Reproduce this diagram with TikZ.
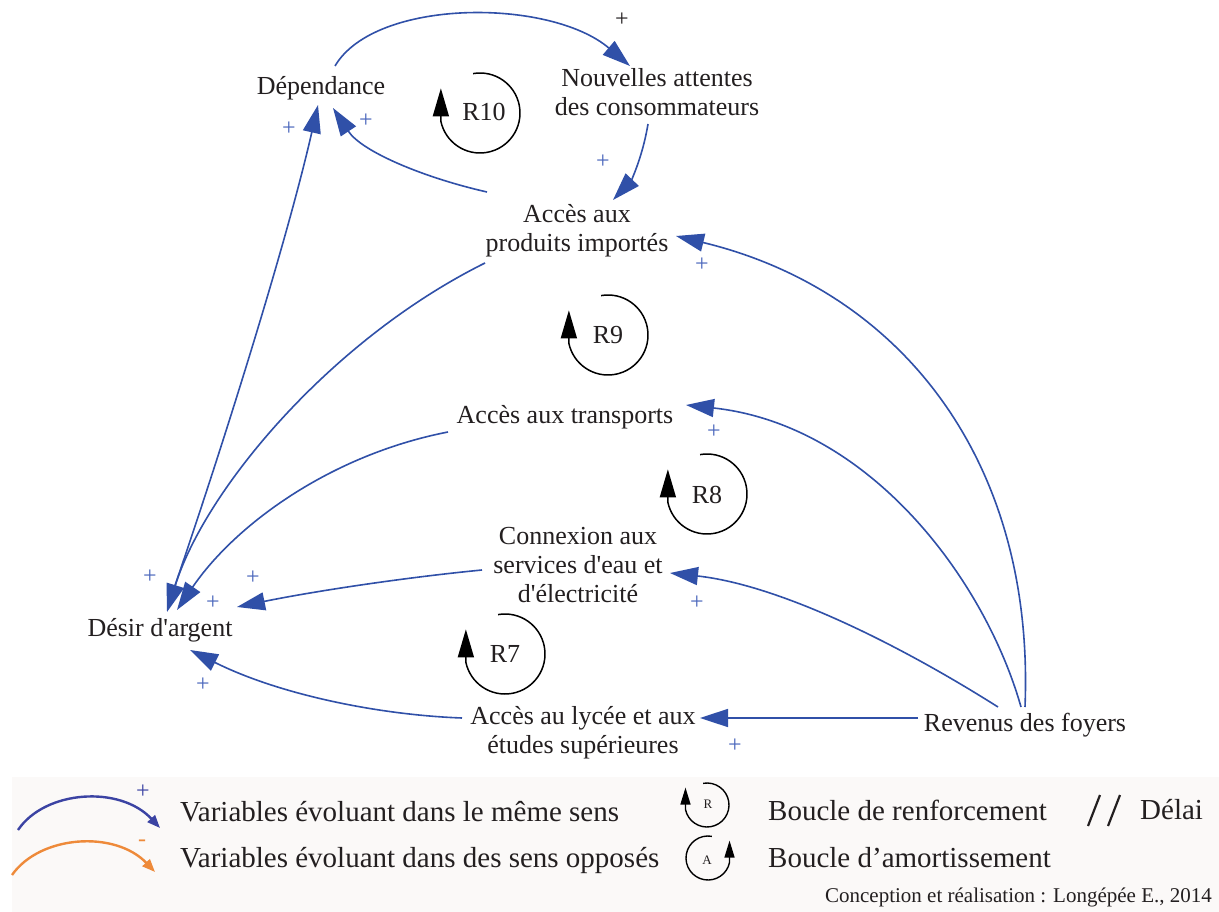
\documentclass[tikz,border=0pt]{standalone}
\usepackage{fontspec}
\setmainfont{Liberation Serif}[Ligatures=TeXOff]
\usetikzlibrary{arrows.meta}
\definecolor{ablue}{HTML}{3050A8}
\definecolor{pblue}{HTML}{4A66BC}
\definecolor{txt}{HTML}{231F20}
\definecolor{lblue}{HTML}{3B43A3}
\definecolor{lorange}{HTML}{EE8A3A}
\definecolor{legbg}{HTML}{FBF9F8}
\tikzset{
  var/.style={font=\fontsize{26}{29}\selectfont, align=center, text=txt, inner sep=0pt},
  plus/.style={font=\fontsize{24}{24}\selectfont, text=pblue, inner sep=0pt},
  looplbl/.style={font=\fontsize{26}{29}\selectfont, text=txt, inner sep=0pt},
  link/.style={draw=ablue, line width=1.6pt, -{Triangle[length=28pt,width=18pt]}},
  loopst/.style={draw=black, line width=1.5pt, -{Triangle[length=28pt,width=16pt]}},
  legtxt/.style={font=\fontsize{29}{32}\selectfont, text=txt, inner sep=0pt, anchor=west},
  legloop/.style={draw=black, line width=1.4pt, -{Triangle[length=17pt,width=10pt]}}
}
\begin{document}
\begin{tikzpicture}[x=1pt,y=1pt]
\useasboundingbox (0,0) rectangle (1219,-912);
\fill[white] (0,0) rectangle (1219,-912);
\fill[legbg] (12,-777) rectangle (1219,-912);

% variables
\node[var] (dep) at (321,-88) {Dépendance};
\node[var] (nou) at (657,-92) {Nouvelles attentes\\des consommateurs};
\node[var] (pro) at (577,-231) {Accès aux\\produits importés};
\node[var] (tra) at (565,-417) {Accès aux transports};
\node[var] (con) at (578,-565) {Connexion aux\\services d'eau et\\d'électricité};
\node[var] (des) at (160,-630) {Désir d'argent};
\node[var] (lyc) at (583,-733) {Accès au lycée et aux\\études supérieures};
\node[var] (rev) at (1025,-725) {Revenus des foyers};

% links
\draw[link] ([shift={(14,22)}]dep.center) .. controls (375,2) and (550,2) .. ([shift={(-27,26)}]nou.center);
\draw[link] ([shift={(-9,-32)}]nou.center) .. controls (642,-160) and (630,-182) .. ([shift={(36,31)}]pro.center);
\draw[link] ([shift={(-90,39)}]pro.center) .. controls (425,-178) and (362,-152) .. ([shift={(12,-20)}]dep.center);
\draw[link] ([shift={(10,30)}]des.center) .. controls (215,-470) and (285,-250) .. ([shift={(-3,-17)}]dep.center);
\draw[link] ([shift={(-92,-32)}]pro.center) .. controls (330,-340) and (205,-490) .. ([shift={(7,18)}]des.center);
\draw[link] ([shift={(-117,-15)}]tra.center) .. controls (330,-455) and (235,-525) .. ([shift={(17,20)}]des.center);
\draw[link] ([shift={(-96,-5)}]con.center) .. controls (400,-578) and (310,-592) .. ([shift={(77,23)}]des.center);
\draw[link] ([shift={(-121,15)}]lyc.center) .. controls (380,-715) and (280,-695) .. ([shift={(30,-20)}]des.center);
\draw[link] ([shift={(-107,7)}]rev.center) -- ([shift={(117,15)}]lyc.center);
\draw[link] ([shift={(-27,18)}]rev.center) .. controls (900,-645) and (780,-585) .. ([shift={(92,-8)}]con.center);
\draw[link] ([shift={(-4,18)}]rev.center) .. controls (985,-580) and (870,-425) .. ([shift={(121,12)}]tra.center);
\draw[link] ([shift={(0,18)}]rev.center) .. controls (1035,-460) and (900,-290) .. ([shift={(99,-5)}]pro.center);

% polarity signs
\node[plus, text=txt] (p1) at (622,-20) {+};
\node[plus] (p2) at (603,-162) {+};
\node[plus] (p3) at (366,-121) {+};
\node[plus] (p4) at (289,-129) {+};
\node[plus] (p5) at (702,-265) {+};
\node[plus] (p6) at (714,-432) {+};
\node[plus] (p7) at (697,-603) {+};
\node[plus] (p8) at (735,-746) {+};
\node[plus] (p9) at (150,-577) {+};
\node[plus] (p10) at (213,-603) {+};
\node[plus] (p11) at (253,-578) {+};
\node[plus] (p12) at (203,-685) {+};

% loops
\draw[loopst] (480,-113) ++(100:40) arc[start angle=100,end angle=-168,radius=40] -- ++(0,33);
\node[looplbl] (r10) at (484,-112) {R10};
\draw[loopst] (608,-335) ++(100:40) arc[start angle=100,end angle=-168,radius=40] -- ++(0,33);
\node[looplbl] (r9) at (608,-335) {R9};
\draw[loopst] (707,-494) ++(100:40) arc[start angle=100,end angle=-168,radius=40] -- ++(0,33);
\node[looplbl] (r8) at (707,-495) {R8};
\draw[loopst] (505,-654) ++(100:40) arc[start angle=100,end angle=-168,radius=40] -- ++(0,33);
\node[looplbl] (r7) at (505,-654) {R7};

% legend
\coordinate (lb1) at (18,-830);
\coordinate (lb2) at (160,-828);
\draw[draw=lblue, line width=2.4pt, -{Triangle[length=13pt,width=10pt]}] (lb1) .. controls (45,-790) and (120,-785) .. (lb2);
\node[font=\fontsize{24}{24}\selectfont, text=lblue, inner sep=0pt] (lplus) at (143,-792) {+};
\coordinate (lo1) at (12,-875);
\coordinate (lo2) at (155,-872);
\draw[draw=lorange, line width=2.4pt, -{Triangle[length=13pt,width=10pt]}] (lo1) .. controls (40,-835) and (115,-830) .. (lo2);
\node[font=\fontsize{24}{24}\selectfont, text=lorange, inner sep=0pt] (lminus) at (142,-843) {-};
\node[legtxt] (lt1) at (180,-812) {Variables évoluant dans le même sens};
\node[legtxt] (lt2) at (180,-860) {Variables évoluant dans des sens opposés};

\draw[legloop] (707,-805) ++(100:22) arc[start angle=100,end angle=-168,radius=22] -- ++(0,22);
\node[font=\fontsize{13}{13}\selectfont, text=txt, inner sep=0pt] (lr) at (708,-804) {R};
\draw[legloop] (708,-858) ++(80:22) arc[start angle=80,end angle=348,radius=22] -- ++(0,22);
\node[font=\fontsize{13}{13}\selectfont, text=txt, inner sep=0pt] (la) at (707,-860) {A};
\node[legtxt] (lt3) at (768,-810) {Boucle de renforcement};
\node[legtxt] (lt4) at (768,-858) {Boucle d’amortissement};
\draw[txt, line width=2.2pt] (1088,-826) -- (1100,-795);
\draw[txt, line width=2.2pt] (1108,-826) -- (1120,-795);
\node[legtxt] (lt5) at (1140,-810) {Délai};
\node[font=\fontsize{21}{21}\selectfont, text=txt, inner sep=0pt, anchor=east] (foot) at (1212,-897) {Conception et réalisation : Longépée E., 2014};
\end{tikzpicture}
\end{document}
